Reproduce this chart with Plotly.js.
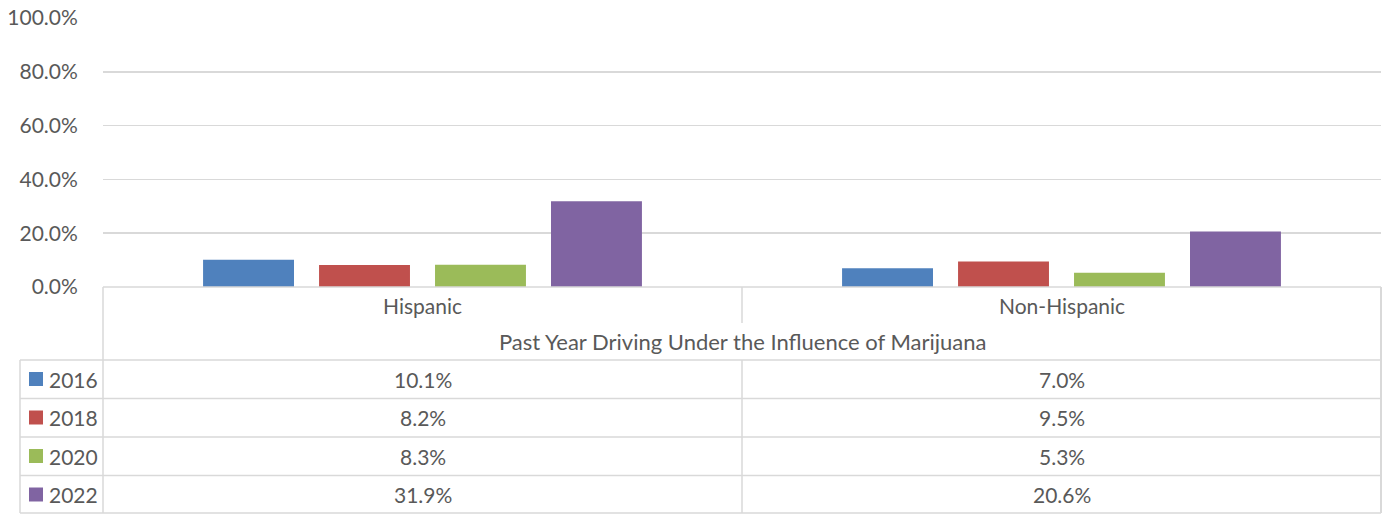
<!DOCTYPE html>
<html>
<head>
<meta charset="utf-8">
<script src="https://cdn.plot.ly/plotly-3.0.1.min.js"></script>
<style>html,body{margin:0;padding:0;background:#fff;}#chart{width:1389px;height:514px;}</style>
</head>
<body>
<div id="chart"></div>
<script>
const categories = ["Hispanic", "Non-Hispanic"];
const years = ["2016", "2018", "2020", "2022"];
const v2016 = [10.1, 7.0];
const v2018 = [8.2, 9.5];
const v2020 = [8.3, 5.3];
const v2022 = [31.9, 20.6];
const groupTitle = "Past Year Driving Under the Influence of Marijuana";
const colors = ["#4F81BD", "#C0504D", "#9BBB59", "#8064A2"];
const seriesValues = [v2016, v2018, v2020, v2022];

const W = 1389, H = 514;
const L = 103, R = 1381, T = 18, B = 287;
const px = x => (x - L) / (R - L);
const py = y => (B - y) / (B - T);
const txt = "#595959";
const grid = "#D9D9D9";
const fontFam = "Lato, 'Open Sans', sans-serif";
const FS = 21;

const traces = seriesValues.map((vals, i) => ({
  type: "bar",
  name: years[i],
  x: categories,
  y: vals.map(v => v / 100),
  marker: {color: colors[i]},
  hoverinfo: "skip"
}));

const shapes = [];
const line = (x0, y0, x1, y1, w) => shapes.push({
  type: "line", xref: "paper", yref: "paper",
  x0: px(x0), y0: py(y0), x1: px(x1), y1: py(y1),
  line: {color: grid, width: w || 1.5}
});
const rowTops = [360, 398.5, 437, 475.5];
const rowBot = 513;
line(L, B, R, B, 1.5);
line(742, B, 742, 323);
line(L, B, L, rowBot);
line(R, B, R, rowBot, 2);
line(20, rowTops[0], 20, rowBot);
rowTops.forEach(y => line(20, y, R, y));
line(20, rowBot, R, rowBot);
line(742, rowTops[0], 742, rowBot);

const annotations = [];
categories.forEach(c => annotations.push({
  xref: "x", yref: "paper", x: c, y: py(305), text: c, showarrow: false,
  font: {family: fontFam, size: FS, color: txt}, xanchor: "center", yanchor: "middle"
}));
annotations.push({
  xref: "paper", yref: "paper", x: 0.5, y: py(341), text: groupTitle, showarrow: false,
  font: {family: fontFam, size: 22, color: txt}, xanchor: "center", yanchor: "middle"
});
const rowCenters = rowTops.map(t => t + 19);
seriesValues.forEach((vals, i) => {
  const yc = rowCenters[i];
  shapes.push({
    type: "rect", xref: "paper", yref: "paper",
    x0: px(29), x1: px(43), y0: py(yc - 7), y1: py(yc + 7),
    fillcolor: colors[i], line: {width: 0}
  });
  annotations.push({
    xref: "paper", yref: "paper", x: px(47), y: py(yc), text: years[i], showarrow: false,
    font: {family: fontFam, size: FS, color: txt}, xanchor: "left", yanchor: "middle"
  });
  vals.forEach((v, j) => annotations.push({
    xref: "x", yref: "paper", x: categories[j], y: py(yc), text: v.toFixed(1) + "%",
    showarrow: false, font: {family: fontFam, size: FS, color: txt},
    xanchor: "center", yanchor: "middle"
  }));
});

const layout = {
  width: W, height: H,
  margin: {l: L, r: W - R, t: T, b: H - B, pad: 0},
  paper_bgcolor: "#fff", plot_bgcolor: "#fff",
  showlegend: false,
  barmode: "group",
  bargap: 0.274,
  bargroupgap: 0.216,
  xaxis: {type: "category", showticklabels: false, ticks: "", showline: false, showgrid: false, zeroline: false, fixedrange: true},
  yaxis: {range: [0, 1], dtick: 0.2, tick0: 0, tickformat: ".1%", showgrid: true, gridcolor: grid, gridwidth: 1.5,
          zeroline: false, showline: false, ticks: "outside", ticklen: 20, tickcolor: "rgba(0,0,0,0)",
          tickfont: {family: fontFam, size: FS, color: txt}, fixedrange: true},
  shapes: shapes,
  annotations: annotations,
  font: {family: fontFam, color: txt}
};
Plotly.newPlot("chart", traces, layout, {displayModeBar: false, staticPlot: true});
</script>
</body>
</html>
